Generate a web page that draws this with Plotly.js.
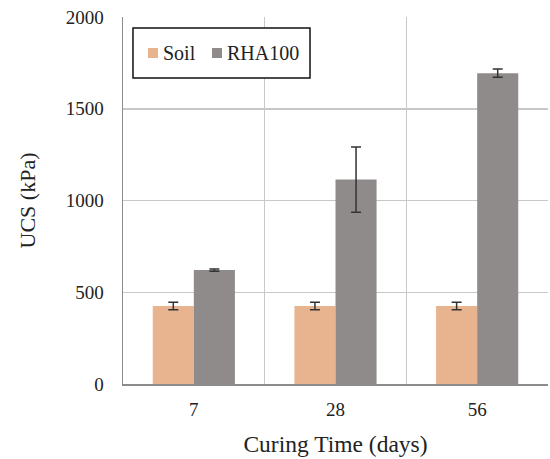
<!DOCTYPE html>
<html>
<head>
<meta charset="utf-8">
<script src="https://cdn.plot.ly/plotly-3.0.1.min.js"></script>
<style>html,body{margin:0;padding:0;background:#fff;}</style>
</head>
<body>
<div id="chart" style="width:550px;height:459px;"></div>
<script>
const categories = ['7', '28', '56'];
const seriesNames = ['Soil', 'RHA100'];
const soilValues = [425, 425, 425];
const soilErrors = [20, 20, 20];
const rhaValues = [621, 1114, 1694];
const rhaErrors = [6, 178, 22];
const yTicks = [0, 500, 1000, 1500, 2000];

const colors = ['#e8b48f', '#8f8b8b'];
const serif = '"Times New Roman", "Liberation Serif", Times, serif';
const textColor = '#222222';

const traces = [
  {
    type: 'bar', name: seriesNames[0], x: categories, y: soilValues,
    marker: {color: colors[0]},
    error_y: {type: 'data', array: soilErrors, visible: true, color: '#333333', thickness: 1.5, width: 5}
  },
  {
    type: 'bar', name: seriesNames[1], x: categories, y: rhaValues,
    marker: {color: colors[1]},
    error_y: {type: 'data', array: rhaErrors, visible: true, color: '#333333', thickness: 1.5, width: 5}
  }
];

// custom legend (box, swatches, labels) in paper coordinates
const legendSwatchX = [[0.0588, 0.0824], [0.2094, 0.2329]];
const legendTextX = [0.0918, 0.2424];
const shapes = [
  {type: 'rect', xref: 'paper', yref: 'paper', x0: 0.0235, x1: 0.44, y0: 0.834, y1: 0.970,
   line: {color: '#111111', width: 1.5}, fillcolor: '#ffffff', layer: 'above'}
];
const annotations = [];
seriesNames.forEach((name, i) => {
  shapes.push({type: 'rect', xref: 'paper', yref: 'paper',
    x0: legendSwatchX[i][0], x1: legendSwatchX[i][1], y0: 0.8883, y1: 0.9155,
    line: {width: 0}, fillcolor: colors[i], layer: 'above'});
  annotations.push({xref: 'paper', yref: 'paper', x: legendTextX[i], y: 0.902,
    xanchor: 'left', yanchor: 'middle', showarrow: false, text: name,
    font: {family: serif, size: 20, color: textColor}, borderpad: 0});
});

const layout = {
  width: 550, height: 459,
  margin: {l: 123, r: 2, t: 17, b: 75},
  paper_bgcolor: '#ffffff', plot_bgcolor: '#ffffff',
  barmode: 'group', bargap: 0.42, bargroupgap: 0,
  font: {family: serif, color: textColor, size: 19},
  showlegend: false,
  xaxis: {
    type: 'category', tickson: 'boundaries', ticks: '',
    showgrid: true, gridcolor: '#c8c8c8', gridwidth: 1.5,
    showline: true, linecolor: '#8c8c8c', linewidth: 1.5,
    ticklabelstandoff: 8,
    tickfont: {family: serif, size: 19, color: textColor},
    title: {text: 'Curing Time (days)', font: {family: serif, size: 23.5, color: textColor}, standoff: 16},
    fixedrange: true
  },
  yaxis: {
    range: [0, 2000], tickvals: yTicks, ticktext: yTicks.map(String),
    ticks: '', ticklabelstandoff: 14,
    showgrid: true, gridcolor: '#c8c8c8', gridwidth: 1.5,
    showline: true, linecolor: '#8c8c8c', linewidth: 1.5,
    zeroline: false,
    tickfont: {family: serif, size: 19, color: textColor},
    title: {text: 'UCS (kPa)', font: {family: serif, size: 22, color: textColor}, standoff: 24},
    fixedrange: true
  },
  shapes: shapes,
  annotations: annotations
};

Plotly.newPlot('chart', traces, layout, {displayModeBar: false, staticPlot: true});
</script>
</body>
</html>
